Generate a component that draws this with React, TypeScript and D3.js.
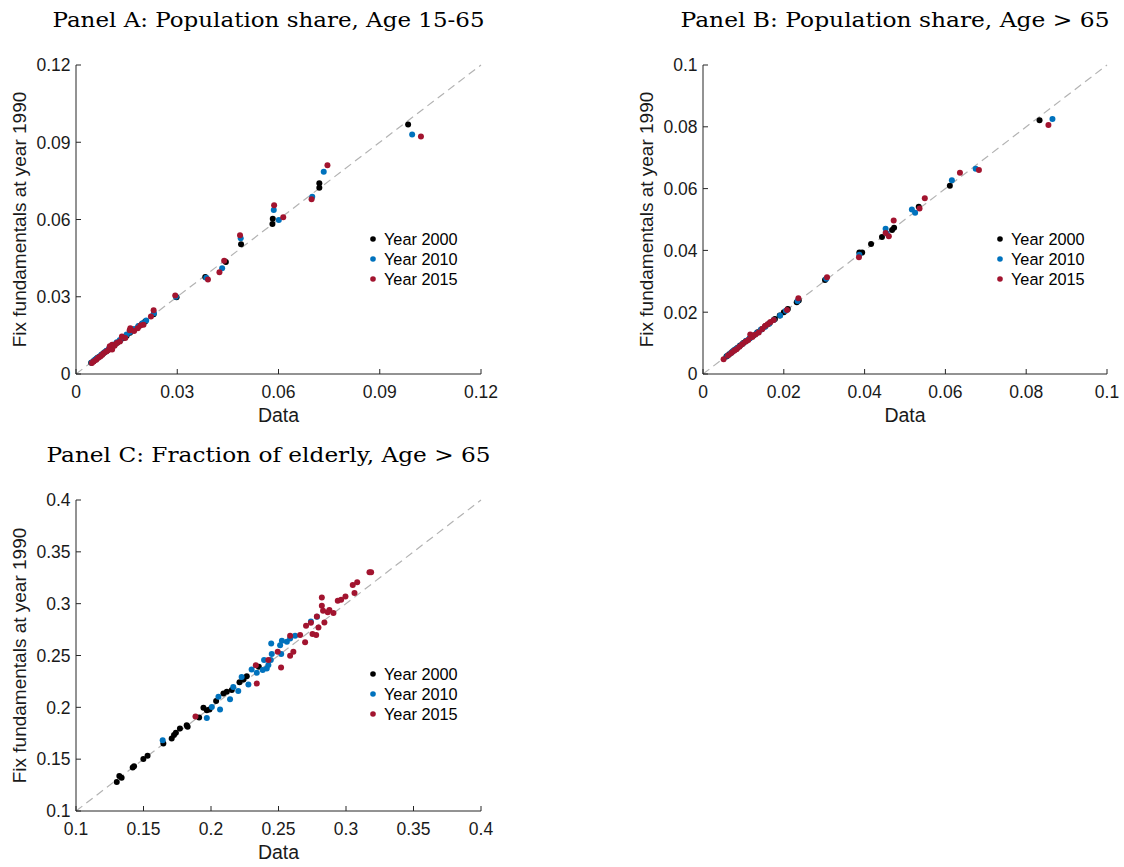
import React from "react";
import * as d3 from "d3";

type Pt = [number, number];

// ---------- Panel A: Population share, Age 15-65 ----------
const panelA2000: Pt[] = [
  [0.0045, 0.0044], [0.0052, 0.005], [0.0058, 0.0056], [0.0063, 0.0062], [0.007, 0.0068],
  [0.0078, 0.0077], [0.0085, 0.0084], [0.0092, 0.009], [0.01, 0.0099], [0.0108, 0.0106],
  [0.0115, 0.0114], [0.0122, 0.0121], [0.013, 0.0129], [0.014, 0.0139], [0.015, 0.0149],
  [0.016, 0.016], [0.0172, 0.0171], [0.0185, 0.0184], [0.0196, 0.0195], [0.0205, 0.0204],
  [0.023, 0.0232], [0.0298, 0.0298], [0.0383, 0.0377], [0.0444, 0.0435], [0.0489, 0.0504],
  [0.0582, 0.0583], [0.0583, 0.0603], [0.0721, 0.0723], [0.0721, 0.0741], [0.0984, 0.0969],
];
const panelA2010: Pt[] = [
  [0.0046, 0.0045], [0.0054, 0.0053], [0.006, 0.0059], [0.0067, 0.0066], [0.0075, 0.0075],
  [0.0083, 0.0083], [0.009, 0.009], [0.0098, 0.0099], [0.0106, 0.0107], [0.0113, 0.0115],
  [0.0121, 0.0123], [0.013, 0.0132], [0.014, 0.0142], [0.015, 0.0153], [0.016, 0.0163],
  [0.0172, 0.0175], [0.0185, 0.0186], [0.0197, 0.0197], [0.0208, 0.0208], [0.0231, 0.0236],
  [0.0296, 0.03], [0.0386, 0.0374], [0.0433, 0.0411], [0.0488, 0.0527], [0.0586, 0.0637],
  [0.0601, 0.0598], [0.07, 0.0688], [0.0734, 0.0785], [0.0996, 0.093],
];
const panelA2015: Pt[] = [
  [0.0047, 0.0043], [0.0052, 0.0049], [0.006, 0.0055], [0.0066, 0.0063], [0.0072, 0.0068],
  [0.0077, 0.0074], [0.0082, 0.0081], [0.009, 0.0087], [0.0096, 0.0093], [0.01, 0.0108],
  [0.0107, 0.0095], [0.0107, 0.0114], [0.0114, 0.011], [0.0121, 0.012], [0.013, 0.0126],
  [0.0136, 0.0146], [0.0146, 0.014], [0.0159, 0.017], [0.0161, 0.0178], [0.0172, 0.0167],
  [0.0183, 0.0178], [0.0191, 0.0188], [0.02, 0.0191], [0.0222, 0.0223], [0.023, 0.0248],
  [0.0294, 0.0305], [0.0391, 0.0367], [0.0425, 0.0395], [0.0439, 0.044], [0.0486, 0.0539],
  [0.0587, 0.0655], [0.0614, 0.0609], [0.0698, 0.0679], [0.0745, 0.0811], [0.1022, 0.0922],
];
const panelATicks = [0, 0.03, 0.06, 0.09, 0.12];
const panelATickLabels = ["0", "0.03", "0.06", "0.09", "0.12"];

// ---------- Panel B: Population share, Age > 65 ----------
const panelB2000: Pt[] = [
  [0.0058, 0.0057], [0.0065, 0.0064], [0.0072, 0.0071], [0.0078, 0.0078], [0.0085, 0.0084],
  [0.0092, 0.0092], [0.01, 0.01], [0.0108, 0.0108], [0.0116, 0.0116], [0.0125, 0.0125],
  [0.0135, 0.0135], [0.0145, 0.0145], [0.0155, 0.0155], [0.0165, 0.0165], [0.0178, 0.0178],
  [0.019, 0.0189], [0.02, 0.02], [0.021, 0.021], [0.0232, 0.0232], [0.0237, 0.0238],
  [0.0302, 0.0304], [0.0387, 0.0393], [0.0394, 0.0393], [0.0416, 0.0421], [0.0443, 0.0443],
  [0.0468, 0.0466], [0.0473, 0.0473], [0.0534, 0.0541], [0.0611, 0.0609], [0.0833, 0.0821],
];
const panelB2010: Pt[] = [
  [0.006, 0.0059], [0.0068, 0.0067], [0.0075, 0.0075], [0.0082, 0.0082], [0.009, 0.009],
  [0.0098, 0.0098], [0.0106, 0.0107], [0.0115, 0.0115], [0.0124, 0.0124], [0.0133, 0.0133],
  [0.0143, 0.0143], [0.0153, 0.0152], [0.0163, 0.0162], [0.0175, 0.0175], [0.0191, 0.0189],
  [0.0205, 0.0205], [0.0234, 0.0236], [0.0305, 0.0308], [0.0387, 0.0386], [0.0452, 0.047],
  [0.0455, 0.0455], [0.0517, 0.0532], [0.0525, 0.0522], [0.0616, 0.0627], [0.0675, 0.0664],
  [0.0865, 0.0825],
];
const panelB2015: Pt[] = [
  [0.0051, 0.0048], [0.0062, 0.006], [0.007, 0.0068], [0.0077, 0.0075], [0.0083, 0.008],
  [0.009, 0.0088], [0.0097, 0.0096], [0.0105, 0.0104], [0.0112, 0.011], [0.0117, 0.0128],
  [0.0122, 0.012], [0.013, 0.0128], [0.0138, 0.0134], [0.0147, 0.0146], [0.0153, 0.0155],
  [0.016, 0.0161], [0.0167, 0.0168], [0.0175, 0.0175], [0.0208, 0.0207], [0.0236, 0.0245],
  [0.0307, 0.0313], [0.0386, 0.0378], [0.0452, 0.0456], [0.046, 0.0446], [0.0472, 0.0497],
  [0.0536, 0.0536], [0.0549, 0.0569], [0.0636, 0.0651], [0.0683, 0.066], [0.0855, 0.0806],
];
const panelBTicks = [0, 0.02, 0.04, 0.06, 0.08, 0.1];
const panelBTickLabels = ["0", "0.02", "0.04", "0.06", "0.08", "0.1"];

// ---------- Panel C: Fraction of elderly, Age > 65 ----------
const panelC2000: Pt[] = [
  [0.1302, 0.128], [0.1321, 0.1338], [0.1338, 0.132], [0.142, 0.1419], [0.143, 0.1432],
  [0.1499, 0.1502], [0.153, 0.1534], [0.1647, 0.1651], [0.1709, 0.1699], [0.1726, 0.1732],
  [0.174, 0.1754], [0.177, 0.1796], [0.182, 0.1828], [0.1827, 0.1812], [0.1912, 0.1902],
  [0.1944, 0.1995], [0.1969, 0.1972], [0.1989, 0.198], [0.2038, 0.206], [0.2092, 0.2133],
  [0.2117, 0.215], [0.2154, 0.2166], [0.2211, 0.2243], [0.224, 0.2268], [0.2265, 0.23],
  [0.2354, 0.2391],
];
const panelC2010: Pt[] = [
  [0.1642, 0.1683], [0.1969, 0.1898], [0.2006, 0.2004], [0.2055, 0.2101], [0.2067, 0.1979],
  [0.2141, 0.2078], [0.2165, 0.2197], [0.2202, 0.2158], [0.2227, 0.2293], [0.2277, 0.222],
  [0.2301, 0.2365], [0.2339, 0.2333], [0.2383, 0.2359], [0.2393, 0.2456], [0.2413, 0.2375],
  [0.2425, 0.2408], [0.2443, 0.2456], [0.245, 0.2514], [0.2446, 0.2616], [0.2512, 0.26],
  [0.252, 0.2514], [0.2525, 0.2643], [0.2562, 0.2633], [0.2586, 0.2665], [0.2623, 0.2691],
  [0.274, 0.2829], [0.2785, 0.2874],
];
const panelC2015: Pt[] = [
  [0.1885, 0.1911], [0.2332, 0.2407], [0.2339, 0.223], [0.2425, 0.2456], [0.2494, 0.2537],
  [0.2519, 0.2385], [0.2586, 0.2691], [0.2586, 0.2498], [0.261, 0.2537], [0.266, 0.2697],
  [0.2697, 0.2627], [0.2704, 0.2788], [0.274, 0.2816], [0.2752, 0.2707], [0.2779, 0.2697],
  [0.2796, 0.2771], [0.2784, 0.2877], [0.2821, 0.298], [0.2821, 0.306], [0.283, 0.2932],
  [0.284, 0.2819], [0.2865, 0.2916], [0.2877, 0.2938], [0.2907, 0.2909], [0.2939, 0.3029],
  [0.2964, 0.3038], [0.2996, 0.307], [0.305, 0.318], [0.3083, 0.3206], [0.3063, 0.3103],
  [0.3174, 0.3302], [0.3186, 0.3302],
];
const panelCTicks = [0.1, 0.15, 0.2, 0.25, 0.3, 0.35, 0.4];
const panelCTickLabels = ["0.1", "0.15", "0.2", "0.25", "0.3", "0.35", "0.4"];

const seriesNames = ["Year 2000", "Year 2010", "Year 2015"];
const seriesColors = ["#000000", "#0072BD", "#A2142F"];
const titles = [
  "Panel A: Population share, Age 15-65",
  "Panel B: Population share, Age > 65",
  "Panel C: Fraction of elderly, Age > 65",
];
const xLabel = "Data";
const yLabel = "Fix fundamentals at year 1990";

const AXIS = "#262626";
const SANS = "'Liberation Sans', Arial, Helvetica, sans-serif";
const SERIF = "'DejaVu Serif', serif";

interface PanelProps {
  left: number;
  top: number;
  width: number;
  height: number;
  domain: [number, number];
  ticks: number[];
  tickLabels: string[];
  series: Pt[][];
  title: string;
  titleWidth: number;
  legendDx: number;
  legendY: number;
}

function Panel(p: PanelProps) {
  const x = d3.scaleLinear().domain(p.domain).range([p.left, p.left + p.width]);
  const y = d3.scaleLinear().domain(p.domain).range([p.top + p.height, p.top]);
  const bottom = p.top + p.height;
  const cx = p.left + p.width / 2;
  const tickLen = 5;
  return (
    <g>
      <text
        x={cx - 10}
        y={p.top - 38}
        textAnchor="middle"
        fontFamily={SERIF}
        fontSize={21}
        textLength={p.titleWidth}
        lengthAdjust="spacingAndGlyphs"
        fill="#000"
      >
        {p.title}
      </text>
      {/* diagonal 45-degree line */}
      <line
        x1={x(p.domain[0])}
        y1={y(p.domain[0])}
        x2={x(p.domain[1])}
        y2={y(p.domain[1])}
        stroke="#b3b3b3"
        strokeWidth={1.2}
        strokeDasharray="8 5"
      />
      {/* points */}
      {p.series.map((s, si) => (
        <g key={si}>
          {s.map((d, i) => (
            <circle key={i} cx={x(d[0])} cy={y(d[1])} r={3} fill={seriesColors[si]} />
          ))}
        </g>
      ))}
      {/* axes */}
      <line x1={p.left} y1={bottom} x2={p.left + p.width} y2={bottom} stroke={AXIS} strokeWidth={1} />
      <line x1={p.left} y1={p.top} x2={p.left} y2={bottom} stroke={AXIS} strokeWidth={1} />
      {p.ticks.map((t, i) => (
        <g key={"x" + i}>
          <line x1={x(t)} x2={x(t)} y1={bottom} y2={bottom - tickLen} stroke={AXIS} strokeWidth={1} />
          <text
            x={x(t)}
            y={bottom + 24}
            textAnchor="middle"
            fontFamily={SANS}
            fontSize={17.5}
            fill="#1a1a1a"
          >
            {p.tickLabels[i]}
          </text>
        </g>
      ))}
      {p.ticks.map((t, i) => (
        <g key={"y" + i}>
          <line x1={p.left} x2={p.left + tickLen} y1={y(t)} y2={y(t)} stroke={AXIS} strokeWidth={1} />
          <text
            x={p.left - 5.5}
            y={y(t) + 6.3}
            textAnchor="end"
            fontFamily={SANS}
            fontSize={17.5}
            fill="#1a1a1a"
          >
            {p.tickLabels[i]}
          </text>
        </g>
      ))}
      <text x={cx} y={bottom + 48} textAnchor="middle" fontFamily={SANS} fontSize={19.5} fill="#1a1a1a">
        {xLabel}
      </text>
      <text
        transform={`translate(${p.left - 50},${p.top + p.height / 2}) rotate(-90)`}
        textAnchor="middle"
        fontFamily={SANS}
        fontSize={19}
        fill="#1a1a1a"
      >
        {yLabel}
      </text>
      {/* legend */}
      {seriesNames.map((n, i) => (
        <g key={"l" + i}>
          <circle cx={p.left + p.legendDx} cy={p.legendY + i * 20} r={2.8} fill={seriesColors[i]} />
          <text
            x={p.left + p.legendDx + 11}
            y={p.legendY + i * 20 + 6}
            fontFamily={SANS}
            fontSize={16.3}
            fill="#000"
          >
            {n}
          </text>
        </g>
      ))}
    </g>
  );
}

export default function App() {
  return (
    <svg
      width={1124}
      height={867}
      style={{ position: "absolute", left: 0, top: 0, background: "#fff" }}
    >
      <rect x={0} y={0} width={1124} height={867} fill="#fff" />
      <Panel
        left={76}
        top={65}
        width={405}
        height={309}
        domain={[0, 0.12]}
        ticks={panelATicks}
        tickLabels={panelATickLabels}
        series={[panelA2000, panelA2010, panelA2015]}
        title={titles[0]}
        titleWidth={432}
        legendDx={297}
        legendY={239}
      />
      <Panel
        left={703}
        top={65}
        width={404}
        height={309}
        domain={[0, 0.1]}
        ticks={panelBTicks}
        tickLabels={panelBTickLabels}
        series={[panelB2000, panelB2010, panelB2015]}
        title={titles[1]}
        titleWidth={429}
        legendDx={297}
        legendY={239}
      />
      <Panel
        left={76}
        top={500}
        width={405}
        height={311}
        domain={[0.1, 0.4]}
        ticks={panelCTicks}
        tickLabels={panelCTickLabels}
        series={[panelC2000, panelC2010, panelC2015]}
        title={titles[2]}
        titleWidth={444}
        legendDx={297}
        legendY={674}
      />
    </svg>
  );
}
